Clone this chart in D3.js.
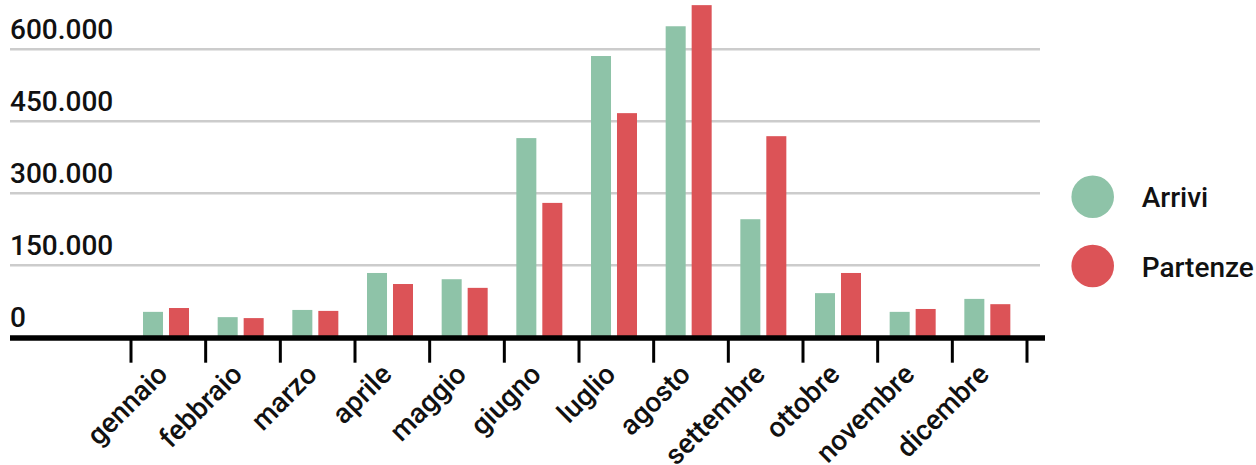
<!DOCTYPE html>
<html><head><meta charset="utf-8">
<script src="https://cdn.jsdelivr.net/npm/d3@7"></script>
<style>
html,body{margin:0;padding:0;background:#fff;}
text{font-family:Roboto, sans-serif;font-weight:500;fill:#111;}
</style></head>
<body><svg id="c" width="1256" height="465"></svg>
<script>
const months = ["gennaio","febbraio","marzo","aprile","maggio","giugno","luglio","agosto","settembre","ottobre","novembre","dicembre"];
const seriesNames = ["Arrivi","Partenze"];
const arrivi =   [53000, 42000, 57000, 134000, 121000, 415000, 586000, 648000, 246000, 92000, 53000, 80000];
const partenze = [61000, 40000, 55000, 111000, 103000, 280000, 467000, 692000, 419000, 134000, 59000, 69000];
const yTicks = [0, 150000, 300000, 450000, 600000];
const colors = ["#8ec3a8", "#dc5357"];

const svg = d3.select("#c");
const y = d3.scaleLinear().domain([0, 600000]).range([337.3, 49.3]);
const x = d3.scaleBand().domain(months).range([131, 1027]).padding(0);
const x1 = d3.scaleBand().domain(seriesNames).range([12, 58]).paddingInner(0.23).paddingOuter(0);
const fmt = v => d3.format(",")(v).replace(/,/g, ".");

// gridlines
svg.append("g").selectAll("line").data(yTicks.filter(d => d > 0)).join("line")
  .attr("x1", 10).attr("x2", 1040)
  .attr("y1", d => y(d)).attr("y2", d => y(d))
  .attr("stroke", "#cccccc").attr("stroke-width", 2.5);

// y labels
svg.append("g").selectAll("text").data(yTicks).join("text")
  .attr("x", 10).attr("y", d => y(d) - 10)
  .style("font-size", "28px")
  .text(fmt);

// bars
const data = months.map((m, i) => ({m, vals: [arrivi[i], partenze[i]]}));
const g = svg.append("g").selectAll("g").data(data).join("g")
  .attr("transform", d => `translate(${x(d.m)},0)`);
g.selectAll("rect").data(d => d.vals.map((v, k) => ({v, k}))).join("rect")
  .attr("x", d => x1(seriesNames[d.k]))
  .attr("width", x1.bandwidth())
  .attr("y", d => y(d.v))
  .attr("height", d => y(0) - y(d.v))
  .attr("fill", d => colors[d.k]);

// axis line
svg.append("line").attr("x1", 10).attr("x2", 1045)
  .attr("y1", y(0) + 0.7).attr("y2", y(0) + 0.7)
  .attr("stroke", "#000").attr("stroke-width", 5.5);

// ticks at band boundaries
const bounds = months.map(m => x(m)).concat([x(months[months.length - 1]) + x.bandwidth()]);
svg.append("g").selectAll("line").data(bounds).join("line")
  .attr("x1", d => d).attr("x2", d => d)
  .attr("y1", 340).attr("y2", 362.7)
  .attr("stroke", "#000").attr("stroke-width", 3);

// x labels
svg.append("g").selectAll("text").data(months).join("text")
  .attr("transform", m => `translate(${x(m) + x.bandwidth() / 2 + 1},376) rotate(-45)`)
  .attr("text-anchor", "end")
  .style("font-size", "28px")
  .text(m => m);

// legend
const lg = svg.append("g").selectAll("g").data(seriesNames).join("g")
  .attr("transform", (d, i) => `translate(1092.7,${196.7 + i * 69.3})`);
lg.append("circle").attr("r", 21.3).attr("fill", (d, i) => colors[i]);
lg.append("text").attr("x", 49).attr("y", 10.5).style("font-size", "28px").text(d => d);
</script></body></html>
